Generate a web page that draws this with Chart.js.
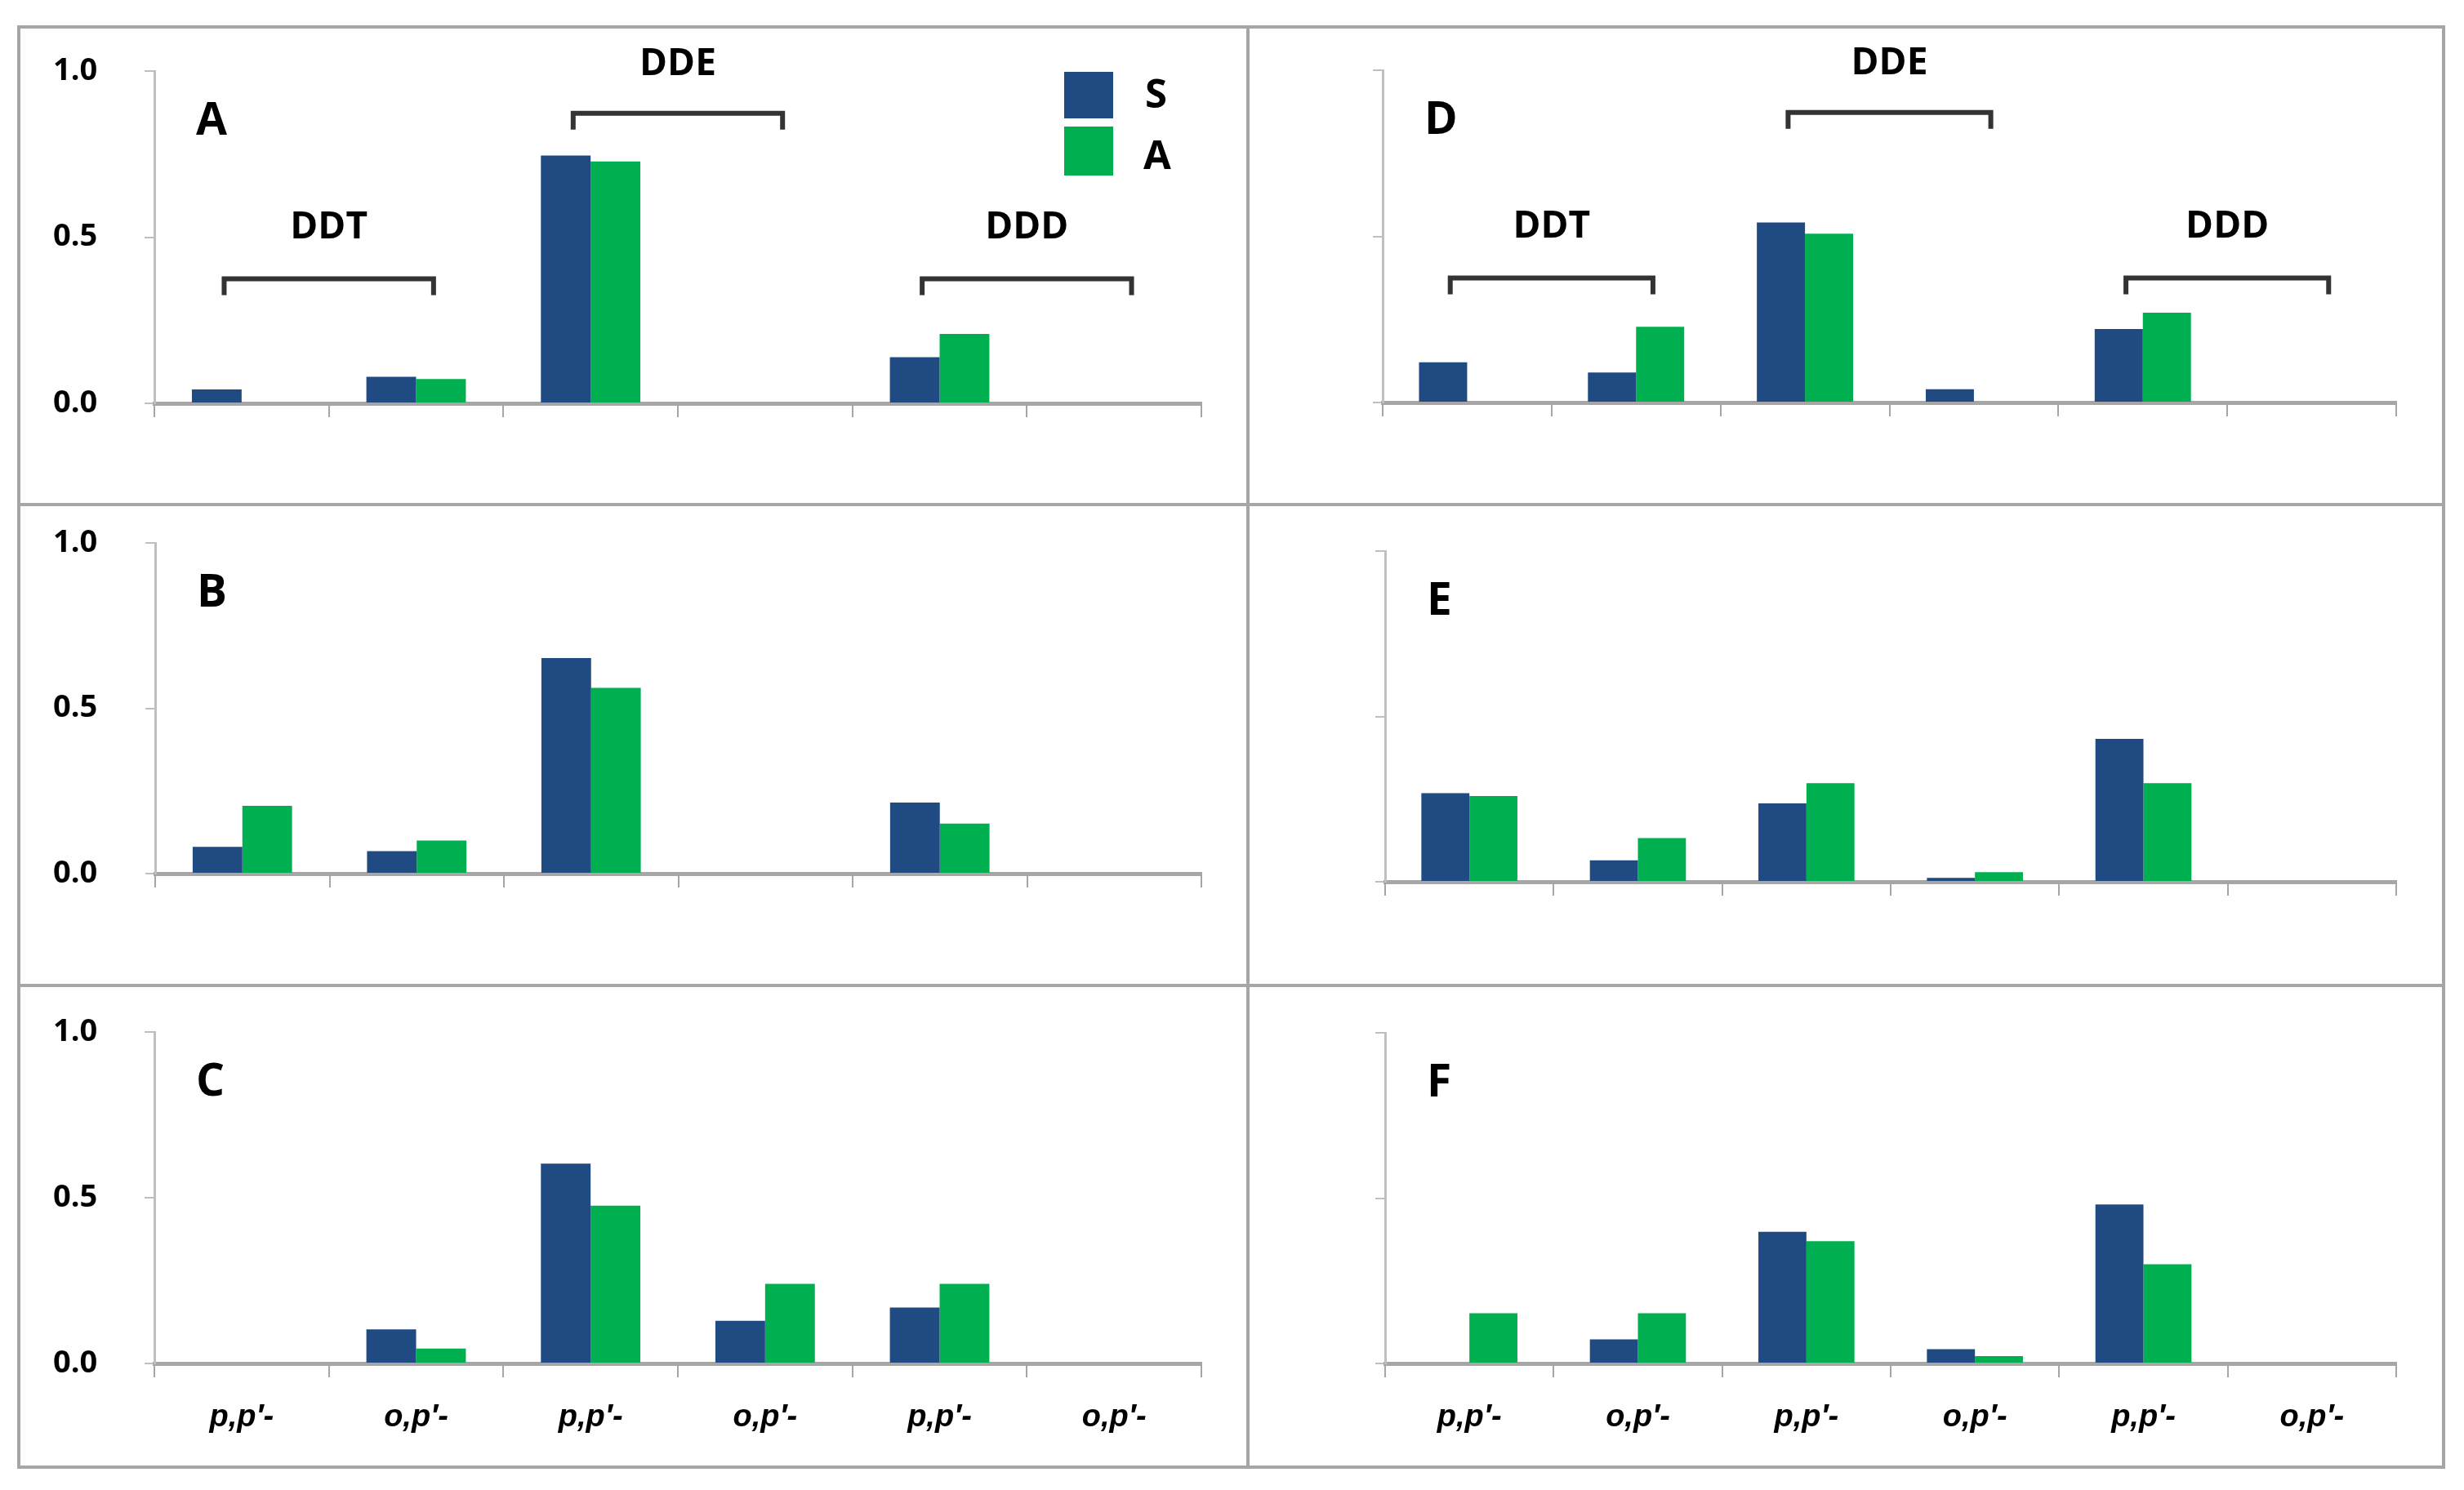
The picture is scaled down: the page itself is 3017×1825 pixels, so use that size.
<!DOCTYPE html>
<html>
<head>
<meta charset="utf-8">
<title>DDT / DDE / DDD – S vs A</title>
<script src="https://cdn.jsdelivr.net/npm/chart.js@4.4.0/dist/chart.umd.min.js"></script>
<style>
  * { box-sizing:border-box; margin:0; padding:0 }
  body { width:3017px; height:1825px; background:#fff; position:relative; overflow:hidden; }
  .panel { position:absolute; }
  .panel canvas { position:absolute; left:0; top:0; }
  .line { position:absolute; background:#a6a6a6; z-index:5; }
  .frame { position:absolute; border:4px solid #a6a6a6; z-index:5; }
</style>
</head>
<body>
<div class="frame" style="left:21px;top:31px;width:2973px;height:1768px"></div>
<div class="line" style="left:1526px;top:31px;width:4px;height:1768px"></div>
<div class="line" style="left:21px;top:616px;width:2973px;height:4px"></div>
<div class="line" style="left:21px;top:1205px;width:2973px;height:4px"></div>

<script>
// categories and series (fractions)
const categories = ['p,p′-', 'o,p′-', 'p,p′-', 'o,p′-', 'p,p′-', 'o,p′-'];
const groupNames = ['DDT', 'DDE', 'DDD'];
const yTicks = [0, 0.5, 1.0];
const seriesNames = ['S', 'A'];

const A_S = [0.042, 0.080, 0.746, 0, 0.139, 0];
const A_A = [0,     0.073, 0.728, 0, 0.209, 0];
const B_S = [0.081, 0.068, 0.652, 0, 0.215, 0];
const B_A = [0.205, 0.100, 0.562, 0, 0.151, 0];
const C_S = [0,     0.103, 0.603, 0.129, 0.169, 0];
const C_A = [0,     0.045, 0.476, 0.240, 0.240, 0];
const D_S = [0.121, 0.090, 0.542, 0.040, 0.221, 0];
const D_A = [0,     0.228, 0.508, 0,     0.270, 0];
const E_S = [0.268, 0.065, 0.237, 0.012, 0.432, 0];
const E_A = [0.259, 0.132, 0.298, 0.029, 0.298, 0];
const F_S = [0,     0.073, 0.398, 0.043, 0.481, 0];
const F_A = [0.152, 0.152, 0.370, 0.022, 0.300, 0];

const colS = '#1f4a82';
const colA = '#00b050';

// panel boxes (page px): left/top/w/h of the cell, ax/ar = axis left/right, yt = y of 1.0, y0 = y of 0
const panels = [
  { id:'A', s:A_S, a:A_A, left:21,   top:31,   w:1506, h:587, ax:189,  ar:1471, yt:87,   y0:494,  yLab:true,  xLab:false, groups:true,  legend:true  },
  { id:'B', s:B_S, a:B_A, left:21,   top:618,  w:1506, h:589, ax:190,  ar:1471, yt:665,  y0:1070, yLab:true,  xLab:false, groups:false, legend:false },
  { id:'C', s:C_S, a:C_A, left:21,   top:1207, w:1506, h:592, ax:189,  ar:1471, yt:1264, y0:1670, yLab:true,  xLab:true,  groups:false, legend:false },
  { id:'D', s:D_S, a:D_A, left:1527, top:31,   w:1467, h:587, ax:1693, ar:2934, yt:86,   y0:493,  yLab:false, xLab:false, groups:true,  legend:false },
  { id:'E', s:E_S, a:E_A, left:1527, top:618,  w:1467, h:589, ax:1696, ar:2934, yt:675,  y0:1080, yLab:false, xLab:false, groups:false, legend:false },
  { id:'F', s:F_S, a:F_A, left:1527, top:1207, w:1467, h:592, ax:1696, ar:2934, yt:1265, y0:1670, yLab:false, xLab:true,  groups:false, legend:false }
];

// panel letter, DDT/DDE/DDD brackets and the S/A legend
const decor = {
  id: 'decor',
  afterDraw(chart, args, o) {
    const { ctx, chartArea: ca, scales: { x, y } } = chart;
    ctx.save();
    ctx.fillStyle = '#000';
    ctx.font = 'bold 55px "Open Sans"';
    ctx.textAlign = 'left';
    ctx.textBaseline = 'alphabetic';
    ctx.fillText(o.letter, ca.left + 51, y.getPixelForValue(1) + 78);

    if (o.groups) {
      const cw = x.getPixelForValue(1) - x.getPixelForValue(0);
      groupNames.forEach((g, i) => {
        const lineV = i === 1 ? 0.873 : 0.375;
        const textV = i === 1 ? 1.02 : 0.528;
        const xa = x.getPixelForValue(2 * i) - 0.1 * cw;
        const xb = x.getPixelForValue(2 * i + 1) + 0.1 * cw;
        const yl = y.getPixelForValue(lineV);
        ctx.strokeStyle = '#333';
        ctx.lineWidth = 6;
        ctx.beginPath();
        ctx.moveTo(xa, yl + 20); ctx.lineTo(xa, yl); ctx.lineTo(xb, yl); ctx.lineTo(xb, yl + 20);
        ctx.stroke();
        ctx.fillStyle = '#000';
        ctx.font = 'bold 46px "Open Sans"';
        ctx.textAlign = 'center';
        ctx.textBaseline = 'middle';
        ctx.fillText(g, (xa + xb) / 2, y.getPixelForValue(textV));
      });
    }

    if (o.legend) {
      const ds = chart.data.datasets;
      const bx = ca.right - 168;
      ctx.fillStyle = ds[0].backgroundColor;
      ctx.fillRect(bx, ca.top + 1, 60, 57);
      ctx.fillStyle = ds[1].backgroundColor;
      ctx.fillRect(bx, ca.top + 68, 60, 60);
      ctx.fillStyle = '#000';
      ctx.font = 'bold 49px "Open Sans"';
      ctx.textAlign = 'left';
      ctx.textBaseline = 'alphabetic';
      ctx.fillText(ds[0].label, ca.right - 69, ca.top + 45);
      ctx.fillText(ds[1].label, ca.right - 71, ca.top + 120);
    }
    ctx.restore();
  }
};

panels.forEach(p => {
  const div = document.createElement('div');
  div.className = 'panel';
  div.style.left = p.left + 'px';
  div.style.top = p.top + 'px';
  div.style.width = p.w + 'px';
  div.style.height = p.h + 'px';
  const cv = document.createElement('canvas');
  cv.width = p.w;
  cv.height = p.h;
  div.appendChild(cv);
  document.body.appendChild(div);

  // y tick labels sit flush left at x = 65 on the page
  const padLeft = p.yLab ? 65 - p.left : 0;

  new Chart(cv, {
    type: 'bar',
    data: {
      labels: categories,
      datasets: [
        { label: seriesNames[0], data: p.s, backgroundColor: colS, borderWidth: 0, categoryPercentage: 0.57, barPercentage: 1.0 },
        { label: seriesNames[1], data: p.a, backgroundColor: colA, borderWidth: 0, categoryPercentage: 0.57, barPercentage: 1.0 }
      ]
    },
    options: {
      responsive: false,
      animation: false,
      devicePixelRatio: 1,
      layout: { padding: { left: padLeft, top: p.yt - p.top, right: p.left + p.w - p.ar, bottom: 0 } },
      plugins: {
        legend: { display: false },
        tooltip: { enabled: false },
        decor: { letter: p.id, groups: p.groups, legend: p.legend }
      },
      scales: {
        x: {
          offset: true,
          grid: { offset: true, drawOnChartArea: false, drawTicks: true, tickLength: 17, color: '#a6a6a6', lineWidth: 2 },
          border: { color: '#a6a6a6', width: 5 },
          ticks: {
            display: p.xLab, autoSkip: false, maxRotation: 0, padding: 27, color: '#000',
            font: { family: 'Liberation Sans', weight: 'bold', style: 'italic', size: 38 }
          },
          afterFit: s => { s.height = p.top + p.h - p.y0; }
        },
        y: {
          min: 0, max: 1,
          afterBuildTicks: s => { s.ticks = yTicks.map(v => ({ value: v })); },
          grid: { drawOnChartArea: false, tickLength: 12, color: '#bfbfbf', lineWidth: 2 },
          border: { color: '#bfbfbf', width: 3 },
          ticks: {
            display: p.yLab, padding: 2, crossAlign: 'far', color: '#000',
            callback: v => Number(v).toFixed(1),
            font: { family: 'Open Sans', weight: 'bold', size: 38 }
          },
          afterFit: s => { s.width = p.ax - p.left - padLeft; }
        }
      }
    },
    plugins: [decor]
  });
});
</script>
</body>
</html>
